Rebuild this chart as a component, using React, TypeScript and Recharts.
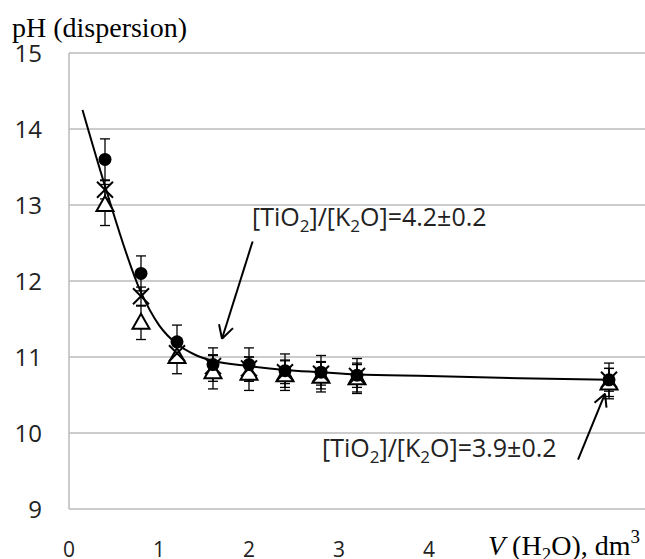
import React from "react";
import {
  ComposedChart,
  Scatter,
  Line,
  XAxis,
  YAxis,
  CartesianGrid,
  ErrorBar,
  ReferenceLine,
} from "recharts";

// V(H2O), dm3
const volumes = [0.4, 0.8, 1.2, 1.6, 2.0, 2.4, 2.8, 3.2, 6.0];
// pH, filled circles
const phCircle = [13.6, 12.1, 11.2, 10.9, 10.9, 10.82, 10.8, 10.76, 10.7];
const errCircle = [0.27, 0.23, 0.22, 0.22, 0.22, 0.22, 0.22, 0.22, 0.22];
// pH, crosses
const phCross = [13.2, 11.8, 11.05, 10.88, 10.85, 10.8, 10.78, 10.75, 10.7];
const errCross = [0.12, 0.12, 0.12, 0.15, 0.15, 0.15, 0.15, 0.15, 0.15];
// pH, open triangles
const phTri = [13.0, 11.45, 11.0, 10.8, 10.78, 10.76, 10.74, 10.72, 10.65];
const errTri = [0.27, 0.22, 0.22, 0.22, 0.22, 0.2, 0.2, 0.2, 0.2];

// fitted curve
const curveX = [0.15, 0.4, 0.8, 1.0, 1.2, 1.4, 1.6, 2.0, 2.4, 2.8, 3.2, 4.0, 5.0, 6.0];
const curveY = [14.25, 13.25, 11.85, 11.42, 11.17, 11.03, 10.95, 10.88, 10.83, 10.8, 10.77, 10.75, 10.72, 10.7];

const yTicks = [9, 10, 11, 12, 13, 14, 15];
const xTicks = [0, 1, 2, 3, 4];

// annotation arrows in data coordinates: [x1, y1, x2, y2]
const arrowSegments = [
  [2.04, 12.52, 1.7, 11.24],
  [1.667, 11.43, 1.7, 11.24],
  [1.822, 11.38, 1.7, 11.24],
  [5.656, 9.65, 5.956, 10.517],
  [5.839, 10.399, 5.956, 10.517],
  [5.972, 10.333, 5.956, 10.517],
];

const mk = (ys: number[], es: number[]) =>
  volumes.map((x, i) => ({ x, y: ys[i], e: es[i] }));
const circleData = mk(phCircle, errCircle);
const crossData = mk(phCross, errCross);
const triData = mk(phTri, errTri);
const curveData = curveX.map((x, i) => ({ x, y: curveY[i] }));

const CircleShape = (p: any) => <circle cx={p.cx} cy={p.cy} r={6.5} fill="#000" />;
const CrossShape = (p: any) => (
  <g stroke="#000" strokeWidth={2}>
    <line x1={p.cx - 8} y1={p.cy - 8} x2={p.cx + 8} y2={p.cy + 8} />
    <line x1={p.cx - 8} y1={p.cy + 8} x2={p.cx + 8} y2={p.cy - 8} />
  </g>
);
const TriShape = (p: any) => (
  <polygon
    points={`${p.cx},${p.cy - 9} ${p.cx - 8.5},${p.cy + 6} ${p.cx + 8.5},${p.cy + 6}`}
    fill="#fff"
    stroke="#000"
    strokeWidth={2}
  />
);

const sans = "'Open Sans', 'Noto Sans', sans-serif";
const serif = "'Liberation Serif', 'DejaVu Serif', serif";

export default function App() {
  return (
    <div style={{ position: "absolute", left: 0, top: 0, width: 645, height: 559, background: "#fff" }}>
      <ComposedChart
        width={645}
        height={559}
        margin={{ top: 53, right: 0, bottom: 10, left: 0 }}
      >
        <CartesianGrid horizontal vertical={false} stroke="#bbbbbb" strokeWidth={1.5} />
        <XAxis
          type="number"
          dataKey="x"
          domain={[0, 6.4]}
          ticks={xTicks}
          interval={0}
          height={40}
          axisLine={false}
          tickLine={false}
          tickSize={0}
          tickMargin={33}
          tick={{ fontSize: 21, fill: "#222", fontFamily: sans }}
        />
        <YAxis
          type="number"
          dataKey="y"
          domain={[9, 15]}
          ticks={yTicks}
          interval={0}
          width={69}
          axisLine={{ stroke: "#bbbbbb", strokeWidth: 1.5 }}
          tickLine={false}
          tickSize={0}
          tickMargin={27}
          tick={{ fontSize: 24, fill: "#222", fontFamily: sans }}
        />
        <Scatter data={triData} shape={TriShape} isAnimationActive={false}>
          <ErrorBar dataKey="e" direction="y" width={5} stroke="#000" strokeWidth={1.3} />
        </Scatter>
        <Scatter data={crossData} shape={CrossShape} isAnimationActive={false}>
          <ErrorBar dataKey="e" direction="y" width={5} stroke="#000" strokeWidth={1.3} />
        </Scatter>
        <Scatter data={circleData} shape={CircleShape} isAnimationActive={false}>
          <ErrorBar dataKey="e" direction="y" width={5} stroke="#000" strokeWidth={1.3} />
        </Scatter>
        <Line
          data={curveData}
          dataKey="y"
          type="monotone"
          stroke="#000"
          strokeWidth={2}
          dot={false}
          activeDot={false}
          isAnimationActive={false}
        />
        {arrowSegments.map((s, i) => (
          <ReferenceLine
            key={i}
            segment={[
              { x: s[0], y: s[1] },
              { x: s[2], y: s[3] },
            ]}
            stroke="#000"
            strokeWidth={2}
            ifOverflow="visible"
          />
        ))}
      </ComposedChart>
      <svg
        width={645}
        height={559}
        style={{ position: "absolute", left: 0, top: 0, pointerEvents: "none" }}
      >
        <text x={12} y={37} fontFamily={serif} fontSize={28} fill="#000">
          pH (dispersion)
        </text>
        <text x={488} y={555} fontFamily={serif} fontSize={28} fill="#000">
          <tspan fontStyle="italic">V</tspan>
          <tspan> (H</tspan>
          <tspan dy={6} fontSize={19}>2</tspan>
          <tspan dy={-6}>O), dm</tspan>
          <tspan dy={-12} fontSize={19}>3</tspan>
        </text>
        <text x={252} y={226} fontFamily={sans} fontSize={25} fill="#222">
          <tspan>[TiO</tspan>
          <tspan dy={6} fontSize={17}>2</tspan>
          <tspan dy={-6}>]/[K</tspan>
          <tspan dy={6} fontSize={17}>2</tspan>
          <tspan dy={-6}>O]=4.2±0.2</tspan>
        </text>
        <text x={322} y={457} fontFamily={sans} fontSize={25} fill="#222">
          <tspan>[TiO</tspan>
          <tspan dy={6} fontSize={17}>2</tspan>
          <tspan dy={-6}>]/[K</tspan>
          <tspan dy={6} fontSize={17}>2</tspan>
          <tspan dy={-6}>O]=3.9±0.2</tspan>
        </text>
      </svg>
    </div>
  );
}
